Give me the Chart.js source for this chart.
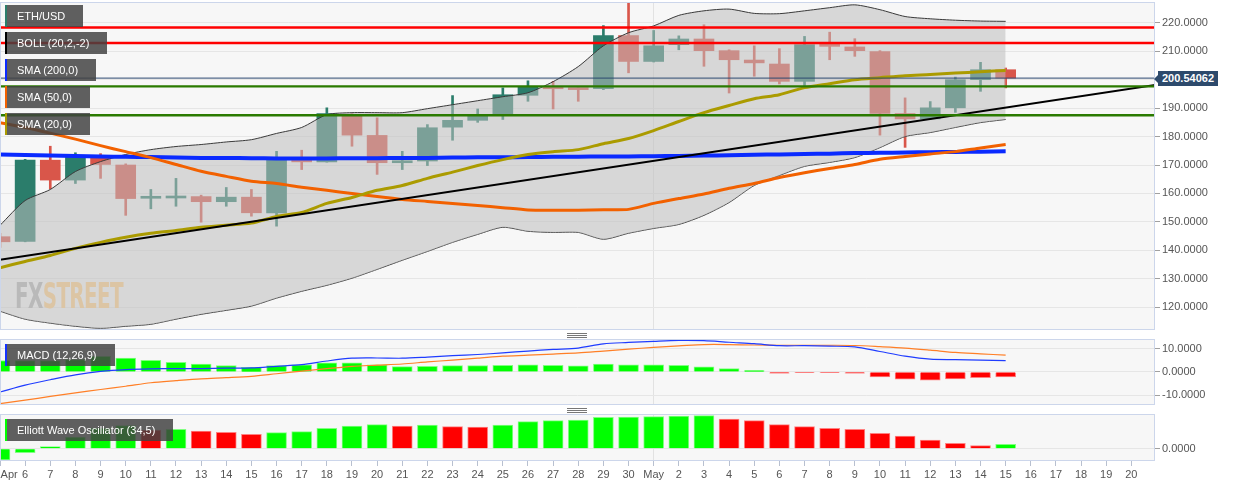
<!DOCTYPE html>
<html>
<head>
<meta charset="utf-8">
<script src="https://cdn.jsdelivr.net/npm/chart.js@4.4.1/dist/chart.umd.min.js"></script>
<style>
html,body{margin:0;padding:0;background:#fff;width:1244px;height:487px;overflow:hidden;font-family:"Liberation Sans",Arial,sans-serif;}
#wrap{position:relative;width:1244px;height:487px;}
canvas{position:absolute;left:0;}
.lg{position:absolute;left:5px;height:22px;line-height:22px;background:rgba(66,66,66,0.84);color:#fff;font-size:11px;box-sizing:border-box;padding-left:10px;border-left:2px solid;white-space:nowrap;}
.handle{position:absolute;left:567px;width:20px;height:5px;background:repeating-linear-gradient(to bottom,#777 0,#777 1px,transparent 1px,transparent 2px);}
#price{position:absolute;left:1158px;top:71px;width:60px;height:15px;line-height:15px;background:#2d4a6c;color:#fff;font-weight:bold;font-size:11px;text-align:center;}
#price:before{content:"";position:absolute;left:-4px;top:3.5px;border-right:4px solid #2d4a6c;border-top:4px solid transparent;border-bottom:4px solid transparent;}
#wm{position:absolute;left:15px;top:278px;font-family:"Liberation Sans Narrow","DejaVu Sans Condensed",sans-serif;font-weight:bold;font-size:36px;line-height:36px;transform-origin:0 0;white-space:nowrap;letter-spacing:-1px;}
</style>
</head>
<body>
<div id="wrap">
  <canvas id="main" width="1244" height="331" style="top:0px;width:1244px;height:331px"></canvas>
  <canvas id="macd" width="1244" height="72" style="top:336px;width:1244px;height:72px"></canvas>
  <canvas id="ewo" width="1244" height="76" style="top:411px;width:1244px;height:76px"></canvas>
  <div id="wm"><span style="color:#b9b9b9">FX</span><span style="color:#dcc5a4">STREET</span></div>
  <div class="lg" style="top:5px;width:78px;border-left-color:#2b7d6b">ETH/USD</div>
  <div class="lg" style="top:32px;width:102px;border-left-color:#000">BOLL (20,2,-2)</div>
  <div class="lg" style="top:59px;width:91px;border-left-color:#0a2aff">SMA (200,0)</div>
  <div class="lg" style="top:86px;width:85px;border-left-color:#f26100">SMA (50,0)</div>
  <div class="lg" style="top:113px;width:85px;border-left-color:#ab9b00">SMA (20,0)</div>
  <div class="lg" style="top:344px;width:110px;border-left-color:#1432ff">MACD (12,26,9)</div>
  <div class="lg" style="top:419px;width:168px;border-left-color:#00ff00">Elliott Wave Oscillator (34,5)</div>
  <div class="handle" style="top:333px"></div>
  <div class="handle" style="top:408px"></div>
  <div id="price">200.54062</div>
</div>
<script>
// ---------- DATA ----------
const dayLabels = ['Apr','6','7','8','9','10','11','12','13','14','15','16','17','18','19','20','21','22','23','24','25','26','27','28','29','30',
  'May','2','3','4','5','6','7','8','9','10','11','12','13','14','15','16','17','18','19','20'];
const open  = [144.8,143.1,171.7,164.7,173.1,170.0,158.3,158.4,158.9,157.1,158.7,153.2,172.0,171.1,187.7,180.4,170.8,171.4,183.3,185.7,187.9,194.5,197.4,197.1,196.8,215.5,206.4,212.3,214.3,210.2,206.9,205.5,199.4,212.5,211.5,209.9,188.1,186.2,190.1,200.0,203.5];
const high  = [146.0,172.0,176.6,174.3,174.0,170.4,161.4,165.3,159.4,162.1,161.4,174.8,175.2,190.1,188.0,186.6,174.8,184.2,194.4,189.7,197.1,199.6,199.4,197.2,219.0,227.1,217.3,215.4,219.3,210.5,211.9,210.9,215.2,216.7,214.4,210.2,193.6,192.3,200.9,206.1,204.1];
const low   = [141.0,143.0,161.6,163.5,165.3,152.3,154.6,155.5,149.9,155.5,152.0,148.5,168.4,171.0,176.6,166.7,168.4,169.8,178.7,185.0,186.0,192.4,189.7,192.4,196.5,202.4,206.2,210.5,204.7,195.3,201.2,198.5,197.9,207.0,208.2,180.5,176.2,186.0,188.5,195.9,197.1];
const close = [143.0,171.7,164.7,172.9,170.2,158.2,158.6,158.7,157.1,158.7,153.2,172.6,171.1,188.1,180.5,170.8,171.4,183.1,185.7,187.7,194.7,197.4,196.8,196.5,215.5,206.4,211.9,214.3,210.2,207.0,205.9,199.4,212.3,211.7,210.2,188.1,186.2,190.1,200.0,203.5,200.54];
const sma20 = [133.9,136.1,138.2,140.7,142.8,144.6,146.0,147.0,148.1,148.8,149.6,151.9,153.3,156.5,158.6,161.1,162.8,165.3,167.5,169.8,171.9,173.7,174.7,175.4,177.5,179.3,182.1,185.3,188.4,190.9,193.3,194.7,197.2,198.6,200.0,200.7,201.4,201.8,202.3,202.8,203.2];
const sma50 = [184.9,183.2,181.2,179.1,176.8,174.7,172.6,170.2,167.8,166.0,164.3,163.5,162.2,161.1,160.0,158.9,157.9,157.2,156.5,155.8,155.0,154.2,154.1,154.1,154.3,154.4,156.5,158.2,159.8,161.8,163.5,165.6,167.3,168.8,170.2,172.0,173.0,173.9,174.7,176.0,177.2];
const sma200 = [173.7,173.5,173.3,173.2,173.0,172.9,172.8,172.6,172.5,172.5,172.4,172.3,172.3,172.3,172.4,172.4,172.5,172.5,172.6,172.7,172.7,172.8,172.9,172.9,173.0,173.0,173.1,173.2,173.3,173.4,173.6,173.7,173.9,174.0,174.2,174.3,174.4,174.5,174.6,174.7,174.8];
const bollUpper = [148.8,157.5,161.4,167.7,171.2,173.7,175.4,176.5,177.2,178.1,178.9,181.1,183.2,187.7,188.4,188.4,188.4,189.8,191.2,192.6,194.0,195.4,199.3,204.6,211.9,216.5,218.9,222.6,224.2,224.8,223.3,223.2,224.2,225.3,226.3,224.6,222.2,221.4,220.9,220.6,220.5];
const bollLower = [118.6,115.8,114.4,113.3,112.6,113.3,114.0,115.8,117.5,118.9,120.4,123.2,125.6,127.7,130.2,133.3,136.5,139.6,142.8,145.6,148.1,146.7,146.3,146.3,143.9,146.0,147.7,149.1,152.3,156.8,162.8,166.3,169.5,170.9,172.6,176.1,180.0,181.4,183.2,184.9,186.0];
const resistanceLevels = [218.35, 212.9];
const supportLevels = [197.65, 187.5];
const lastPrice = 200.54062;
const trendIdx = [0, 46];
const trendVal = [136.7, 198.2];
const macdLine   = [-8.7,-5.7,-3.4,-1.3,0.2,1.0,1.3,1.4,1.4,1.6,1.7,2.4,3.1,4.7,5.9,6.0,5.9,6.4,7.0,7.5,8.2,9.0,9.7,10.3,12.1,12.7,13.2,13.6,13.5,12.8,12.2,11.3,11.3,11.1,10.8,8.8,6.8,5.5,5.3,5.1,4.9];
const signalLine = [-13.7,-12.2,-10.6,-9.1,-7.6,-6.2,-4.7,-3.8,-3.0,-2.5,-1.9,-0.8,0.3,1.4,2.4,2.9,3.4,4.3,5.1,5.9,6.8,7.2,7.7,8.2,9.0,9.8,10.6,11.2,11.8,11.8,11.6,11.5,11.5,11.5,11.4,10.9,10.3,9.4,8.4,7.8,7.2];
const macdHist   = [4.9,4.9,4.9,5.3,6.7,6.0,5.0,4.1,3.4,2.7,2.0,2.7,3.1,3.9,3.9,3.0,2.3,2.4,2.7,2.7,2.8,3.1,2.8,2.6,3.4,3.1,3.0,2.8,2.2,1.4,0.6,-0.6,-0.3,-0.3,-0.6,-2.2,-3.2,-3.6,-3.0,-2.5,-2.2];
const ewo = [-11.3,-4,2,11.7,20.7,23.2,18.7,19.4,17.7,16.4,14.4,16,17,20.4,22.7,24,22.7,23.7,22,21.7,23.7,27,28,28.7,31.4,31.5,32,32.7,33,29.7,28,24,22,20.4,19.4,15.4,12.7,8.7,5.4,3,4.4];
const priceTicks = [120,130,140,150,160,170,180,190,200,210,220];
const macdTicks = [-10,0,10];
const ewoTicks = [0];

// ---------- STYLE / HELPERS ----------
const TEAL = '#2b7d6b', RED = '#d9564a';
const FONT = {family:'"Liberation Sans", Arial, sans-serif', size:11};
const X_MIN = 0, X_MAX = 45.94;
const MONTH_START = dayLabels.indexOf('May');
const idx = open.map((_, i) => i);
const series = arr => arr.map((v, i) => ({x: i, y: v}));
const hline = v => [{x: trendIdx[0], y: v}, {x: trendIdx[1], y: v}];

const panelPlugin = {
  id: 'panel',
  beforeDraw(chart) {
    const {ctx, chartArea: a} = chart;
    ctx.save(); ctx.fillStyle = '#f7f7f7';
    ctx.fillRect(a.left, a.top, a.right - a.left, a.bottom - a.top); ctx.restore();
  },
  afterDraw(chart) {
    const {ctx, chartArea: a} = chart;
    ctx.save(); ctx.strokeStyle = '#ccd6eb'; ctx.lineWidth = 1;
    ctx.strokeRect(a.left + 0.5, a.top + 0.5, a.right - a.left - 1, a.bottom - a.top - 1); ctx.restore();
  }
};

function xScale(showLabels) {
  return {
    type: 'linear', min: X_MIN, max: X_MAX, offset: false,
    afterBuildTicks: s => { s.ticks = dayLabels.map((_, i) => ({value: i})); },
    afterFit: s => { s.paddingLeft = 0; s.paddingRight = 0; if (!showLabels) s.height = 0; else s.height = 26; },
    border: {display: false},
    grid: {
      offset: false, drawTicks: showLabels, tickLength: 5, tickColor: '#b8c0d0',
      color: c => (c.tick && c.tick.value === MONTH_START) ? '#e2e2e2' : 'rgba(0,0,0,0)'
    },
    ticks: {
      display: showLabels, autoSkip: false, maxRotation: 0, padding: 2, color: '#555', font: FONT,
      callback: v => v === 0 ? '      ' + dayLabels[0] : dayLabels[v]
    }
  };
}
function yScale(min, max, tickVals, gridOnlyTicks) {
  return {
    position: 'right', min: min, max: max,
    afterBuildTicks: s => { s.ticks = tickVals.map(v => ({value: v})); },
    afterFit: s => { s.width = 89; s.paddingTop = 0; s.paddingBottom = 0; },
    border: {display: false},
    grid: {color: '#e6e6e6', tickLength: 5, tickColor: '#a0a0a0'},
    ticks: {padding: 2, color: '#555', font: FONT, callback: v => Number(v).toFixed(4)}
  };
}
const baseOpts = (pad) => ({
  responsive: false, maintainAspectRatio: false, animation: false,
  layout: {padding: pad},
  plugins: {legend: {display: false}, tooltip: {enabled: false}},
  elements: {point: {radius: 0}}
});

// ---------- MAIN CHART ----------
const lineDs = (data, color, width, order, extra) => Object.assign({
  type: 'line', data: data, borderColor: color, borderWidth: width, pointRadius: 0,
  tension: 0.25, fill: false, order: order
}, extra || {});

new Chart(document.getElementById('main'), {
  type: 'bar',
  data: {
    datasets: [
      lineDs(hline(lastPrice), '#2c4870', 1, 0, {tension: 0}),
      lineDs(hline(resistanceLevels[0]), '#ff0000', 2.4, 1, {tension: 0}),
      lineDs(hline(resistanceLevels[1]), '#ff0000', 2.4, 1, {tension: 0}),
      lineDs(hline(supportLevels[0]), '#2a7a00', 2.4, 1, {tension: 0}),
      lineDs(hline(supportLevels[1]), '#2a7a00', 2.4, 1, {tension: 0}),
      lineDs(trendIdx.map((x, i) => ({x: x, y: trendVal[i]})), '#000000', 2, 2, {tension: 0}),
      lineDs(series(sma20), '#ab9b00', 3, 3),
      lineDs(series(sma50), '#f26100', 3, 3),
      lineDs(series(sma200), '#0a2aff', 4, 3),
      lineDs(series(bollUpper), '#3a3a3a', 1, 5, {fill: '+1', backgroundColor: 'rgba(190,190,190,0.55)'}),
      lineDs(series(bollLower), '#3a3a3a', 1, 5),
      {
        type: 'bar', data: idx.map(i => ({x: i, y: [open[i], close[i]]})),
        backgroundColor: idx.map(i => close[i] >= open[i] ? TEAL : RED),
        barThickness: 20, minBarLength: 2, grouped: false, order: 10
      },
      {
        type: 'bar', data: idx.map(i => ({x: i, y: [low[i], high[i]]})),
        backgroundColor: idx.map(i => close[i] >= open[i] ? TEAL : RED),
        barThickness: 2, grouped: false, order: 11
      }
    ]
  },
  options: Object.assign(baseOpts({top: 2, bottom: 1, left: 0, right: 0}), {
    scales: {x: xScale(false), y: yScale(112.0, 227.3, priceTicks)}
  }),
  plugins: [panelPlugin]
});

// ---------- MACD ----------
new Chart(document.getElementById('macd'), {
  type: 'bar',
  data: {
    datasets: [
      lineDs(series(macdLine), '#1f3cff', 1.2, 1, {tension: 0.3}),
      lineDs(series(signalLine), '#ff7f27', 1.2, 2, {tension: 0.3}),
      {
        type: 'bar', data: series(macdHist),
        backgroundColor: macdHist.map(v => v >= 0 ? '#00ff00' : '#ff0000'),
        borderColor: macdHist.map(v => v >= 0 ? '#80ff80' : '#ff8080'),
        borderWidth: 1, barThickness: 20, grouped: false, order: 3
      }
    ]
  },
  options: Object.assign(baseOpts({top: 3, bottom: 3, left: 0, right: 0}), {
    scales: {x: xScale(false), y: yScale(-14.3, 14.2, macdTicks)}
  }),
  plugins: [panelPlugin]
});

// ---------- EWO ----------
new Chart(document.getElementById('ewo'), {
  type: 'bar',
  data: {
    datasets: [{
      type: 'bar', data: series(ewo),
      backgroundColor: ewo.map((v, i) => (i === 0 || v >= ewo[i - 1]) ? '#00ff00' : '#ff0000'),
      borderColor: ewo.map((v, i) => (i === 0 || v >= ewo[i - 1]) ? '#80ff80' : '#ff8080'),
      borderWidth: 1, barThickness: 20, grouped: false, order: 1
    }]
  },
  options: Object.assign(baseOpts({top: 3, bottom: 0, left: 0, right: 0}), {
    scales: {x: xScale(true), y: yScale(-12.3, 34.7, ewoTicks)}
  }),
  plugins: [panelPlugin]
});

// watermark width fit
const wm = document.getElementById('wm');
const w = wm.getBoundingClientRect().width;
wm.style.transform = 'scaleX(' + (108 / w) + ')';
</script>
</body>
</html>
